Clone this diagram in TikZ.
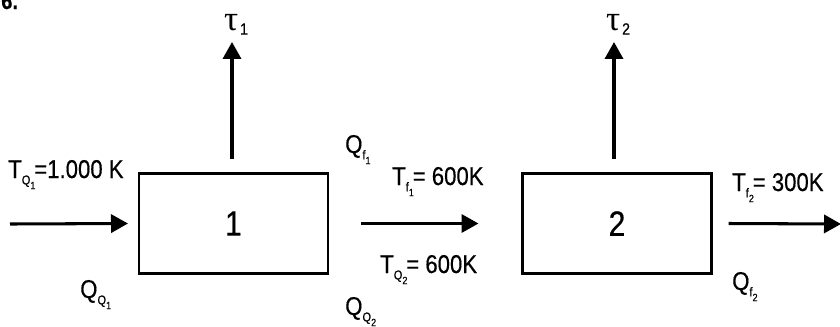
\documentclass[tikz,border=0pt]{standalone}
\usepackage{fontspec}
\setmainfont{Liberation Sans}[FakeStretch=0.86,FakeBold=0.4]
\newfontfamily\grk{Liberation Serif}
\usetikzlibrary{arrows.meta}
\newcommand\sbA[1]{\raisebox{-5.5pt}{\fontsize{11}{11}\selectfont #1}}
\newcommand\sbB[1]{\raisebox{-4pt}{\fontsize{9}{9}\selectfont #1}}
\tikzset{
  procbox/.style={draw,line width=2.5pt,minimum width=5.67cm,minimum height=3cm,inner sep=0pt,outer sep=0pt,font=\fontsize{30}{32}\selectfont},
  arr/.style={line width=2.6pt,-{Triangle[length=14.5pt,width=15.5pt]}},
  lbl/.style={anchor=base west,inner sep=0pt,font=\fontsize{22}{24}\selectfont},
}
\begin{document}
\begin{tikzpicture}[x=0.03cm,y=-0.03cm]
\useasboundingbox (0,0) rectangle (840,326);
\clip (0,0) rectangle (840,326);
\node[anchor=base west,inner sep=0pt,font=\bfseries\fontsize{20}{22}\selectfont] (num) at (1,9) {6.};
\node[procbox] (b1) at (233.5,223.5) {1};
\node[procbox] (b2) at (617,223.5) {2};
\coordinate (in0) at (10,224);
\coordinate (out2) at (841,224);
\coordinate (w1) at (232,42);
\coordinate (w2) at (614,42);
\draw[arr] (in0) -- ([xshift=-0.33cm]b1.west);
\draw[arr] ([xshift=0.99cm]b1.east) -- ([xshift=-1.32cm]b2.west);
\draw[arr] ([xshift=0.51cm]b2.east) -- (out2);
\draw[arr] ([yshift=0.45cm]b1.north -| w1) -- (w1);
\draw[arr] ([yshift=0.45cm]b2.north -| w2) -- (w2);
\node[lbl,font=\fontsize{30}{32}\selectfont] (t1) at (224,30) {{\grk τ}\kern1.5pt\raisebox{-4pt}{\fontsize{14}{14}\selectfont 1}};
\node[lbl,font=\fontsize{30}{32}\selectfont] (t2) at (606,30) {{\grk τ}\kern1.5pt\raisebox{-4pt}{\fontsize{14}{14}\selectfont 2}};
\node[lbl] (tq1) at (8,178) {T\sbA{Q\sbB{1}}\kern-1pt=1.000 K};
\node[lbl] (qq1) at (80,298) {Q\sbA{Q\sbB{1}}};
\node[lbl] (qf1) at (345,153) {Q\sbA{f\sbB{1}}};
\node[lbl] (tf1) at (392,185) {T\sbA{f\sbB{1}}\kern-1pt= 600K};
\node[lbl] (tq2) at (380,273) {T\sbA{Q\sbB{2}}\kern-1pt= 600K};
\node[lbl] (qq2) at (345,315) {Q\sbA{Q\sbB{2}}};
\node[lbl] (tf2) at (732,191) {T\sbA{f\sbB{2}}\kern-1pt= 300K};
\node[lbl] (qf2) at (732,290) {Q\sbA{f\sbB{2}}};
\end{tikzpicture}
\end{document}
